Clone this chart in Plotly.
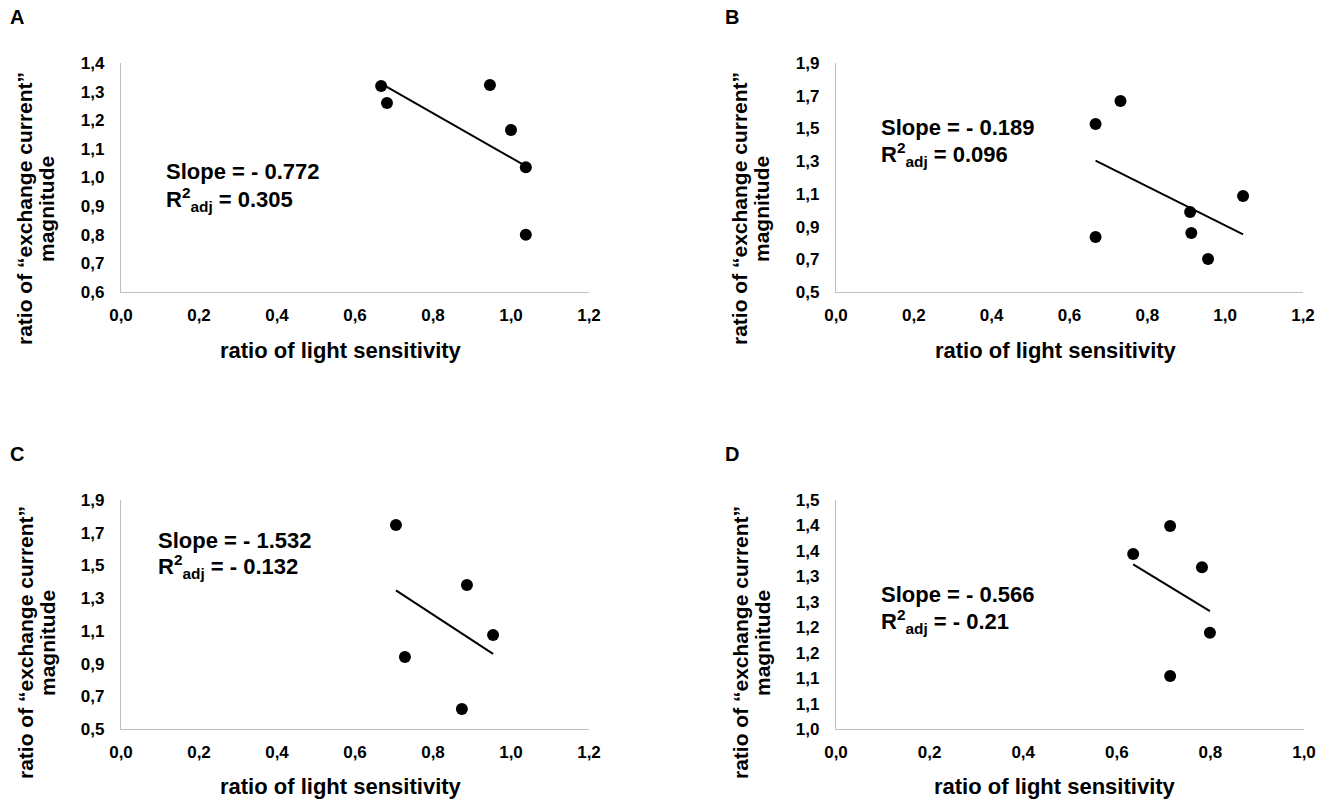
import numpy as np
import plotly.graph_objects as go

# ---------------- data ----------------
a_light = [0.667, 0.682, 0.946, 1.000, 1.038, 1.038]
a_exch = [1.320, 1.260, 1.323, 1.166, 1.036, 0.800]

b_light = [0.731, 0.667, 0.667, 0.910, 0.913, 0.956, 1.046]
b_exch = [1.667, 1.527, 0.836, 0.989, 0.861, 0.702, 1.087]

c_light = [0.705, 0.887, 0.954, 0.728, 0.874]
c_exch = [1.747, 1.380, 1.075, 0.940, 0.622]

d_light = [0.714, 0.635, 0.782, 0.799, 0.714]
d_exch = [1.399, 1.344, 1.318, 1.189, 1.104]

panel_letters = ["A", "B", "C", "D"]
slope_texts = ["Slope = - 0.772", "Slope = - 0.189", "Slope = - 1.532", "Slope = - 0.566"]
r2_texts = ["0.305", "0.096", "- 0.132", "- 0.21"]

x_ticks_12 = [0.0, 0.2, 0.4, 0.6, 0.8, 1.0, 1.2]
x_labels_12 = ["0,0", "0,2", "0,4", "0,6", "0,8", "1,0", "1,2"]
x_ticks_10 = [0.0, 0.2, 0.4, 0.6, 0.8, 1.0]
x_labels_10 = ["0,0", "0,2", "0,4", "0,6", "0,8", "1,0"]

a_y_ticks = [0.6, 0.7, 0.8, 0.9, 1.0, 1.1, 1.2, 1.3, 1.4]
a_y_labels = ["0,6", "0,7", "0,8", "0,9", "1,0", "1,1", "1,2", "1,3", "1,4"]
bc_y_ticks = [0.5, 0.7, 0.9, 1.1, 1.3, 1.5, 1.7, 1.9]
bc_y_labels = ["0,5", "0,7", "0,9", "1,1", "1,3", "1,5", "1,7", "1,9"]
d_y_ticks = [1.0, 1.05, 1.1, 1.15, 1.2, 1.25, 1.3, 1.35, 1.4, 1.45]
d_y_labels = ["1,0", "1,1", "1,1", "1,2", "1,2", "1,3", "1,3", "1,4", "1,4", "1,5"]

x_title = "ratio of light sensitivity"
y_title_1 = "ratio of \u201cexchange current\u201d"
y_title_2 = "magnitude"

# ---------------- layout helpers ----------------
W, H = 1326, 799
FONT = "Liberation Sans, Arial, Helvetica, sans-serif"


def px(x):
    return x / W


def py(y):
    return 1 - y / H


panels = [
    dict(xs=a_light, ys=a_exch, xr=[0, 1.2], yr=[0.6, 1.4], xt=x_ticks_12, xl=x_labels_12,
         yt=a_y_ticks, yl=a_y_labels, box=(121, 589, 63, 292),
         letter=(17, 17), slope=(164, 172, 199), ytit=(25, 47, 209), xtit=(341, 350)),
    dict(xs=b_light, ys=b_exch, xr=[0, 1.2], yr=[0.5, 1.9], xt=x_ticks_12, xl=x_labels_12,
         yt=bc_y_ticks, yl=bc_y_labels, box=(836, 1303, 63, 292),
         letter=(732, 17), slope=(879, 127, 154), ytit=(740, 762, 209), xtit=(1056, 350)),
    dict(xs=c_light, ys=c_exch, xr=[0, 1.2], yr=[0.5, 1.9], xt=x_ticks_12, xl=x_labels_12,
         yt=bc_y_ticks, yl=bc_y_labels, box=(121, 589, 500, 729),
         letter=(17, 454), slope=(156, 540, 566), ytit=(25, 47, 643), xtit=(341, 786)),
    dict(xs=d_light, ys=d_exch, xr=[0, 1.0], yr=[1.0, 1.45], xt=x_ticks_10, xl=x_labels_10,
         yt=d_y_ticks, yl=d_y_labels, box=(836, 1304, 500, 729),
         letter=(732, 454), slope=(879, 594, 621), ytit=(740, 762, 643), xtit=(1055, 786)),
]

fig = go.Figure()
annotations = []
layout_axes = {}

for i, p in enumerate(panels):
    n = i + 1
    xa = "x" if n == 1 else f"x{n}"
    ya = "y" if n == 1 else f"y{n}"
    xs = np.array(p["xs"])
    ys = np.array(p["ys"])

    # scatter points
    fig.add_trace(go.Scatter(x=xs, y=ys, mode="markers", xaxis=xa, yaxis=ya,
                             marker=dict(color="black", size=12), showlegend=False,
                             hoverinfo="x+y"))
    # linear trend line from least squares fit
    k, b = np.polyfit(xs, ys, 1)
    lx = np.array([xs.min(), xs.max()])
    fig.add_trace(go.Scatter(x=lx, y=k * lx + b, mode="lines", xaxis=xa, yaxis=ya,
                             line=dict(color="black", width=2), showlegend=False,
                             hoverinfo="skip"))

    x0, x1, y0, y1 = p["box"]
    axis_common = dict(showgrid=False, zeroline=False, showline=True, linecolor="#BFBFBF",
                       linewidth=1.3, ticks="outside", tickcolor="rgba(0,0,0,0)",
                       tickfont=dict(family=FONT, size=17, color="black", weight="bold"),
                       automargin=False, fixedrange=True)
    xkey = "xaxis" if n == 1 else f"xaxis{n}"
    ykey = "yaxis" if n == 1 else f"yaxis{n}"
    layout_axes[xkey] = dict(domain=[px(x0), px(x1)], range=p["xr"], anchor=ya,
                             tickvals=p["xt"], ticktext=p["xl"], ticklen=7, **axis_common)
    layout_axes[ykey] = dict(domain=[py(y1), py(y0)], range=p["yr"], anchor=xa,
                             tickvals=p["yt"], ticktext=p["yl"], ticklen=12, **axis_common)

    big = dict(family=FONT, size=22, color="black", weight="bold")
    ytf = dict(family=FONT, size=21, color="black", weight="bold")
    # panel letter
    lx_, ly_ = p["letter"]
    annotations.append(dict(text=panel_letters[i], x=px(lx_), y=py(ly_), xref="paper", yref="paper",
                            showarrow=False, xanchor="center", yanchor="middle",
                            font=dict(family=FONT, size=20, color="black", weight="bold")))
    # slope and R2 text
    sx, sy1, sy2 = p["slope"]
    annotations.append(dict(text=slope_texts[i], x=px(sx), y=py(sy1), xref="paper", yref="paper",
                            showarrow=False, xanchor="left", yanchor="middle", font=big))
    annotations.append(dict(text="R<sup>2</sup><sub>adj</sub> = " + r2_texts[i], x=px(sx), y=py(sy2),
                            xref="paper", yref="paper", showarrow=False, xanchor="left",
                            yanchor="middle", font=big))
    # y titles (two lines)
    t1x, t2x, ty = p["ytit"]
    annotations.append(dict(text=y_title_1, x=px(t1x), y=py(ty), xref="paper", yref="paper",
                            showarrow=False, textangle=-90, xanchor="center", yanchor="middle",
                            font=ytf))
    annotations.append(dict(text=y_title_2, x=px(t2x), y=py(ty), xref="paper", yref="paper",
                            showarrow=False, textangle=-90, xanchor="center", yanchor="middle",
                            font=ytf))
    # x title
    tx, tyy = p["xtit"]
    annotations.append(dict(text=x_title, x=px(tx), y=py(tyy), xref="paper", yref="paper",
                            showarrow=False, xanchor="center", yanchor="middle", font=big))

fig.update_layout(
    width=W, height=H, margin=dict(l=0, r=0, t=0, b=0),
    paper_bgcolor="white", plot_bgcolor="white",
    annotations=annotations, showlegend=False,
    **layout_axes,
)

fig.write_html("out.html", config={"displayModeBar": False},
               post_script="document.body.style.margin='0px';document.body.style.padding='0px';"
                           "document.body.style.overflow='hidden';")
